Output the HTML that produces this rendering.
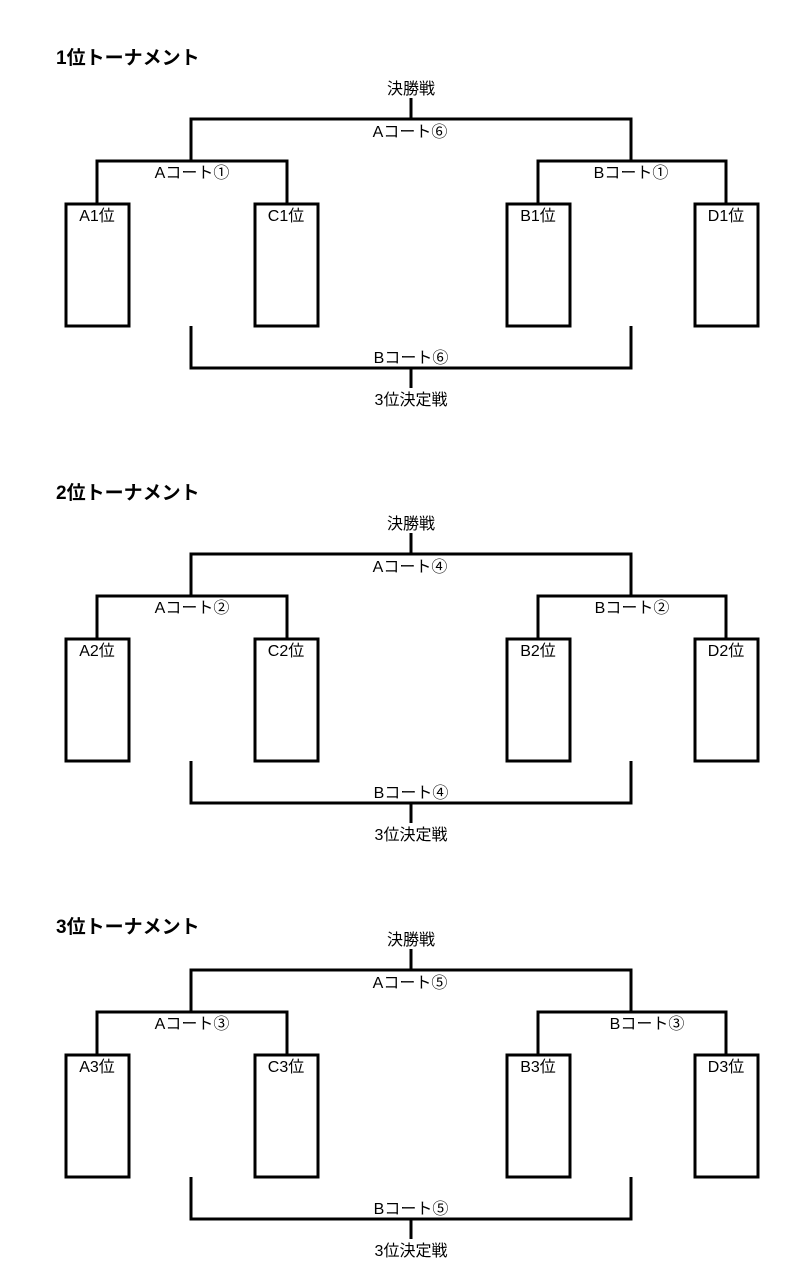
<!DOCTYPE html>
<html><head><meta charset="utf-8"><style>
html,body{margin:0;padding:0;background:#fff;}
svg text{font-family:"Liberation Sans","Noto Sans CJK JP",sans-serif;fill:#000;}
</style></head><body>
<svg width="808" height="1276" viewBox="0 0 808 1276" xmlns="http://www.w3.org/2000/svg">
<defs>
<g id="br" fill="none" stroke="#000">
  <path d="M411 98V119M191 160V119H631V160" stroke-width="3"/>
  <path d="M97 203V161H287V203M538 203V161H726V203" stroke-width="3"/>
  <rect x="66" y="204" width="63" height="122" stroke-width="3"/>
  <rect x="255" y="204" width="63" height="122" stroke-width="3"/>
  <rect x="507" y="204" width="63" height="122" stroke-width="3"/>
  <rect x="695" y="204" width="63" height="122" stroke-width="3"/>
  <path d="M191 326V368H631V326M411 368V388" stroke-width="3"/>
</g>
</defs>

<g transform="translate(0,0)">
<use href="#br"/>
<text x="56" y="64" font-size="19" font-weight="bold">1位トーナメント</text>
<text x="411" y="94" font-size="16" text-anchor="middle">決勝戦</text>
<text x="410" y="137" font-size="16" text-anchor="middle">Aコート⑥</text>
<text x="192" y="178" font-size="16" text-anchor="middle">Aコート①</text>
<text x="631" y="178" font-size="16" text-anchor="middle">Bコート①</text>
<text x="97" y="221" font-size="16" text-anchor="middle">A1位</text>
<text x="286" y="221" font-size="16" text-anchor="middle">C1位</text>
<text x="538" y="221" font-size="16" text-anchor="middle">B1位</text>
<text x="726" y="221" font-size="16" text-anchor="middle">D1位</text>
<text x="411" y="363" font-size="16" text-anchor="middle">Bコート⑥</text>
<text x="411" y="405" font-size="16" text-anchor="middle">3位決定戦</text>
</g>

<g transform="translate(0,435)">
<use href="#br"/>
<text x="56" y="64" font-size="19" font-weight="bold">2位トーナメント</text>
<text x="411" y="94" font-size="16" text-anchor="middle">決勝戦</text>
<text x="410" y="137" font-size="16" text-anchor="middle">Aコート④</text>
<text x="192" y="178" font-size="16" text-anchor="middle">Aコート②</text>
<text x="632" y="178" font-size="16" text-anchor="middle">Bコート②</text>
<text x="97" y="221" font-size="16" text-anchor="middle">A2位</text>
<text x="286" y="221" font-size="16" text-anchor="middle">C2位</text>
<text x="538" y="221" font-size="16" text-anchor="middle">B2位</text>
<text x="726" y="221" font-size="16" text-anchor="middle">D2位</text>
<text x="411" y="363" font-size="16" text-anchor="middle">Bコート④</text>
<text x="411" y="405" font-size="16" text-anchor="middle">3位決定戦</text>
</g>

<g transform="translate(0,851)">
<use href="#br"/>
<text x="56" y="82" font-size="19" font-weight="bold">3位トーナメント</text>
<text x="411" y="94" font-size="16" text-anchor="middle">決勝戦</text>
<text x="410" y="137" font-size="16" text-anchor="middle">Aコート⑤</text>
<text x="192" y="178" font-size="16" text-anchor="middle">Aコート③</text>
<text x="647" y="178" font-size="16" text-anchor="middle">Bコート③</text>
<text x="97" y="221" font-size="16" text-anchor="middle">A3位</text>
<text x="286" y="221" font-size="16" text-anchor="middle">C3位</text>
<text x="538" y="221" font-size="16" text-anchor="middle">B3位</text>
<text x="726" y="221" font-size="16" text-anchor="middle">D3位</text>
<text x="411" y="363" font-size="16" text-anchor="middle">Bコート⑤</text>
<text x="411" y="405" font-size="16" text-anchor="middle">3位決定戦</text>
</g>
</svg>
</body></html>
